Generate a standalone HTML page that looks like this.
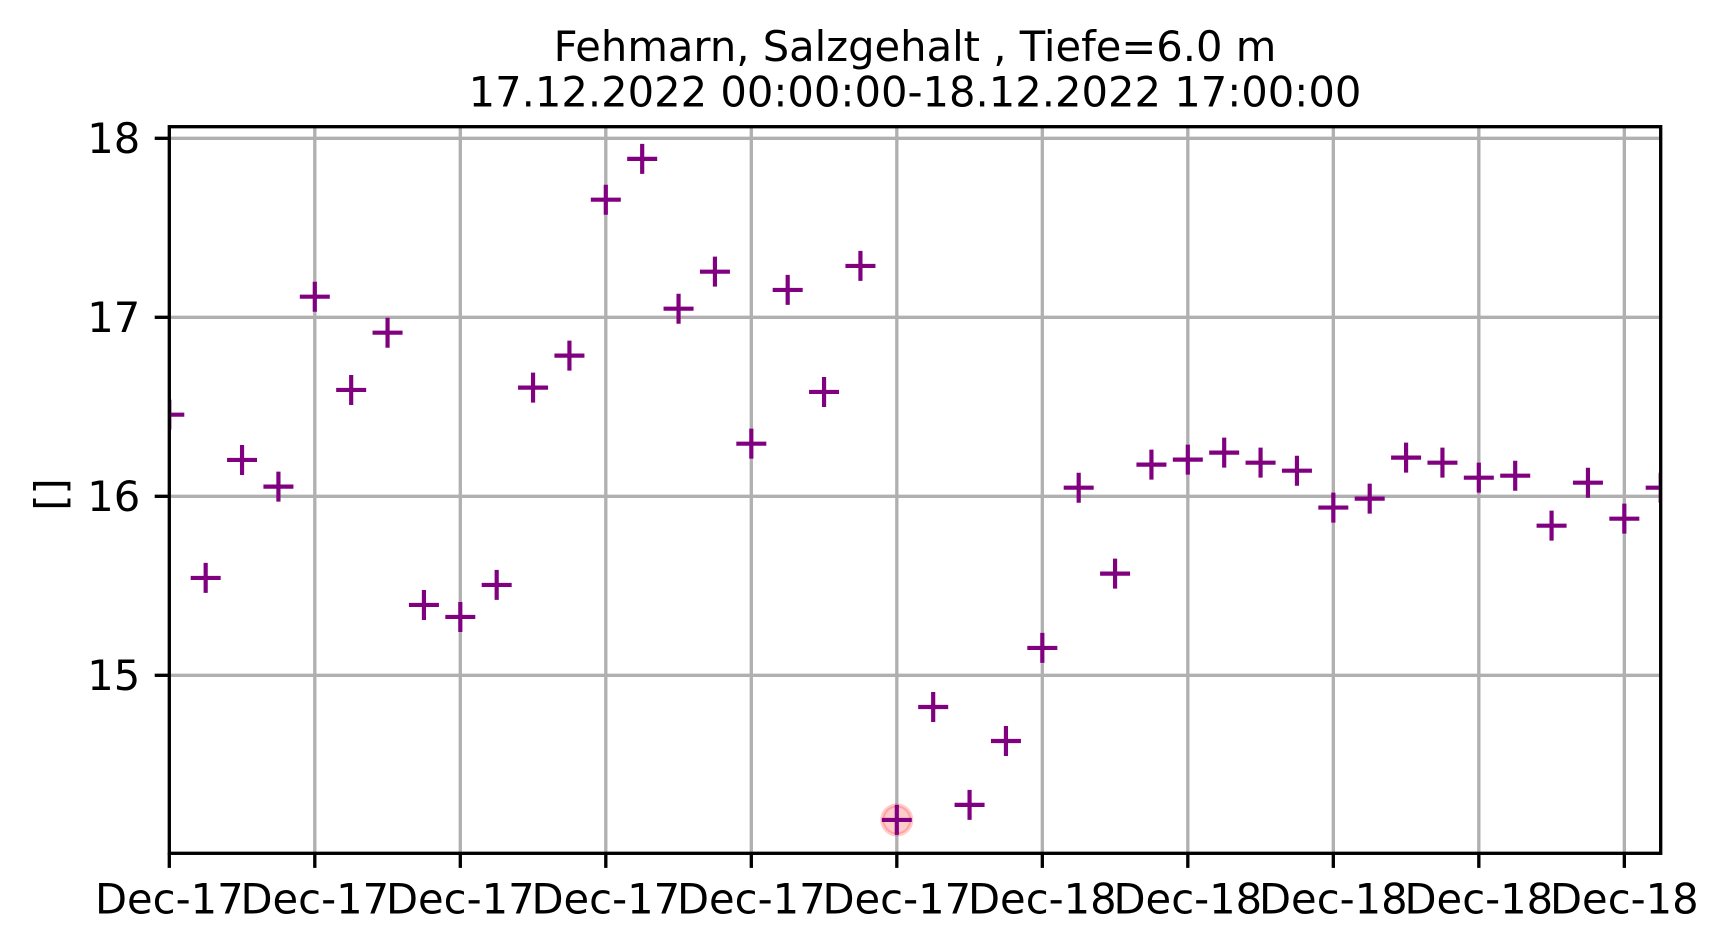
<!DOCTYPE html>
<html lang="de">
<head>
<meta charset="utf-8">
<title>Fehmarn, Salzgehalt</title>
<style>
  html, body { margin: 0; padding: 0; background: #ffffff; width: 1727px; height: 952px; overflow: hidden; }
  svg { display: block; }
  text { font-family: "DejaVu Sans", "Liberation Sans", sans-serif; fill: #000000; font-size: 41.67px; }
</style>
</head>
<body>
<svg id="chart" xmlns="http://www.w3.org/2000/svg" width="1727" height="952" viewBox="0 0 1727 952">
  <rect x="0" y="0" width="1727" height="952" fill="#ffffff"/>
  <text x="915" y="61" text-anchor="middle">Fehmarn, Salzgehalt , Tiefe=6.0 m</text>
  <text x="915" y="106.5" text-anchor="middle">17.12.2022 00:00:00-18.12.2022 17:00:00</text>
  <text x="0" y="0" text-anchor="middle" transform="translate(65 494.5) rotate(-90)">[]</text>
  <defs>
    <clipPath id="plot-clip">
      <rect x="169.3" y="126.7" width="1491.4" height="726.6"/>
    </clipPath>
  </defs>
  <g id="grid" clip-path="url(#plot-clip)"></g>
  <g id="highlight" clip-path="url(#plot-clip)"></g>
  <g id="points" clip-path="url(#plot-clip)"></g>
  <g id="ticks"></g>
  <rect x="169.3" y="126.7" width="1491.4" height="726.6" fill="none" stroke="#000000" stroke-width="3.33"/>
</svg>
<script>
const hours = [0,1,2,3,4,5,6,7,8,9,10,11,12,13,14,15,16,17,18,19,20,21,22,23,24,25,26,27,28,29,30,31,32,33,34,35,36,37,38,39,40,41];
const salinity = [16.456,15.544,16.203,16.054,17.115,16.594,16.914,15.393,15.326,15.505,16.607,16.786,17.657,17.885,17.048,17.255,16.294,17.153,16.583,17.287,14.192,14.823,14.276,14.633,15.153,16.048,15.568,16.177,16.205,16.244,16.188,16.143,15.937,15.987,16.216,16.188,16.104,16.115,15.836,16.076,15.875,16.048];
const xTickHours = [0,4,8,12,16,20,24,28,32,36,40];
const xTickLabels = ["Dec-17","Dec-17","Dec-17","Dec-17","Dec-17","Dec-17","Dec-18","Dec-18","Dec-18","Dec-18","Dec-18"];
const yTickValues = [15,16,17,18];
const highlightHours = [20];

const NS = "http://www.w3.org/2000/svg";
const plotLeft = 169.3, plotRight = 1660.7, plotTop = 126.7, plotBottom = 853.3;
const xMin = 0, xMax = 41;
const yAtEighteen = 138.3, pxPerUnit = 179;

function xScale(h) {
  return plotLeft + (h - xMin) / (xMax - xMin) * (plotRight - plotLeft);
}
function yScale(v) {
  return yAtEighteen + (18 - v) * pxPerUnit;
}
function make(tag, attrs) {
  const el = document.createElementNS(NS, tag);
  for (const k in attrs) el.setAttribute(k, attrs[k]);
  return el;
}

const gridLayer = document.getElementById("grid");
const tickLayer = document.getElementById("ticks");
const pointLayer = document.getElementById("points");
const highlightLayer = document.getElementById("highlight");
const gridStyle = { stroke: "#b0b0b0", "stroke-width": 3.33 };
const tickStyle = { stroke: "#000000", "stroke-width": 3.33 };

xTickHours.forEach(function (h, i) {
  const x = xScale(h);
  const grid = make("line", Object.assign({ x1: x, x2: x, y1: plotTop, y2: plotBottom }, gridStyle));
  
  
  gridLayer.appendChild(grid);

  const tick = make("line", Object.assign({ x1: x, x2: x, y1: plotBottom, y2: plotBottom + 14.6 }, tickStyle));
  
  
  tickLayer.appendChild(tick);

  const label = make("text", { x: x, y: 913.5, "text-anchor": "middle" });
  
  
  label.textContent = xTickLabels[i];
  tickLayer.appendChild(label);
});

yTickValues.forEach(function (v) {
  const y = yScale(v);
  const grid = make("line", Object.assign({ x1: plotLeft, x2: plotRight, y1: y, y2: y }, gridStyle));
  
  
  gridLayer.appendChild(grid);

  const tick = make("line", Object.assign({ x1: plotLeft - 14.6, x2: plotLeft, y1: y, y2: y }, tickStyle));
  
  
  tickLayer.appendChild(tick);

  const label = make("text", { x: plotLeft - 29, y: y + 14.6, "text-anchor": "end" });
  
  
  label.textContent = String(v);
  tickLayer.appendChild(label);
});

highlightHours.forEach(function (h) {
  const i = hours.indexOf(h);
  const circle = make("circle", {
    cx: xScale(h), cy: yScale(salinity[i]), r: 14.5,
    fill: "#ff0000", "fill-opacity": 0.2,
    stroke: "#ff0000", "stroke-opacity": 0.2, "stroke-width": 4.17
  });
  
  
  highlightLayer.appendChild(circle);
});

hours.forEach(function (h, i) {
  const cx = xScale(h), cy = yScale(salinity[i]);
  const marker = make("path", {
    d: "M" + (cx - 15) + " " + cy + "H" + (cx + 15) + "M" + cx + " " + (cy - 15) + "V" + (cy + 15),
    fill: "none", stroke: "#800080", "stroke-width": 4.17
  });
  
  
  pointLayer.appendChild(marker);
});
</script>
</body>
</html>
